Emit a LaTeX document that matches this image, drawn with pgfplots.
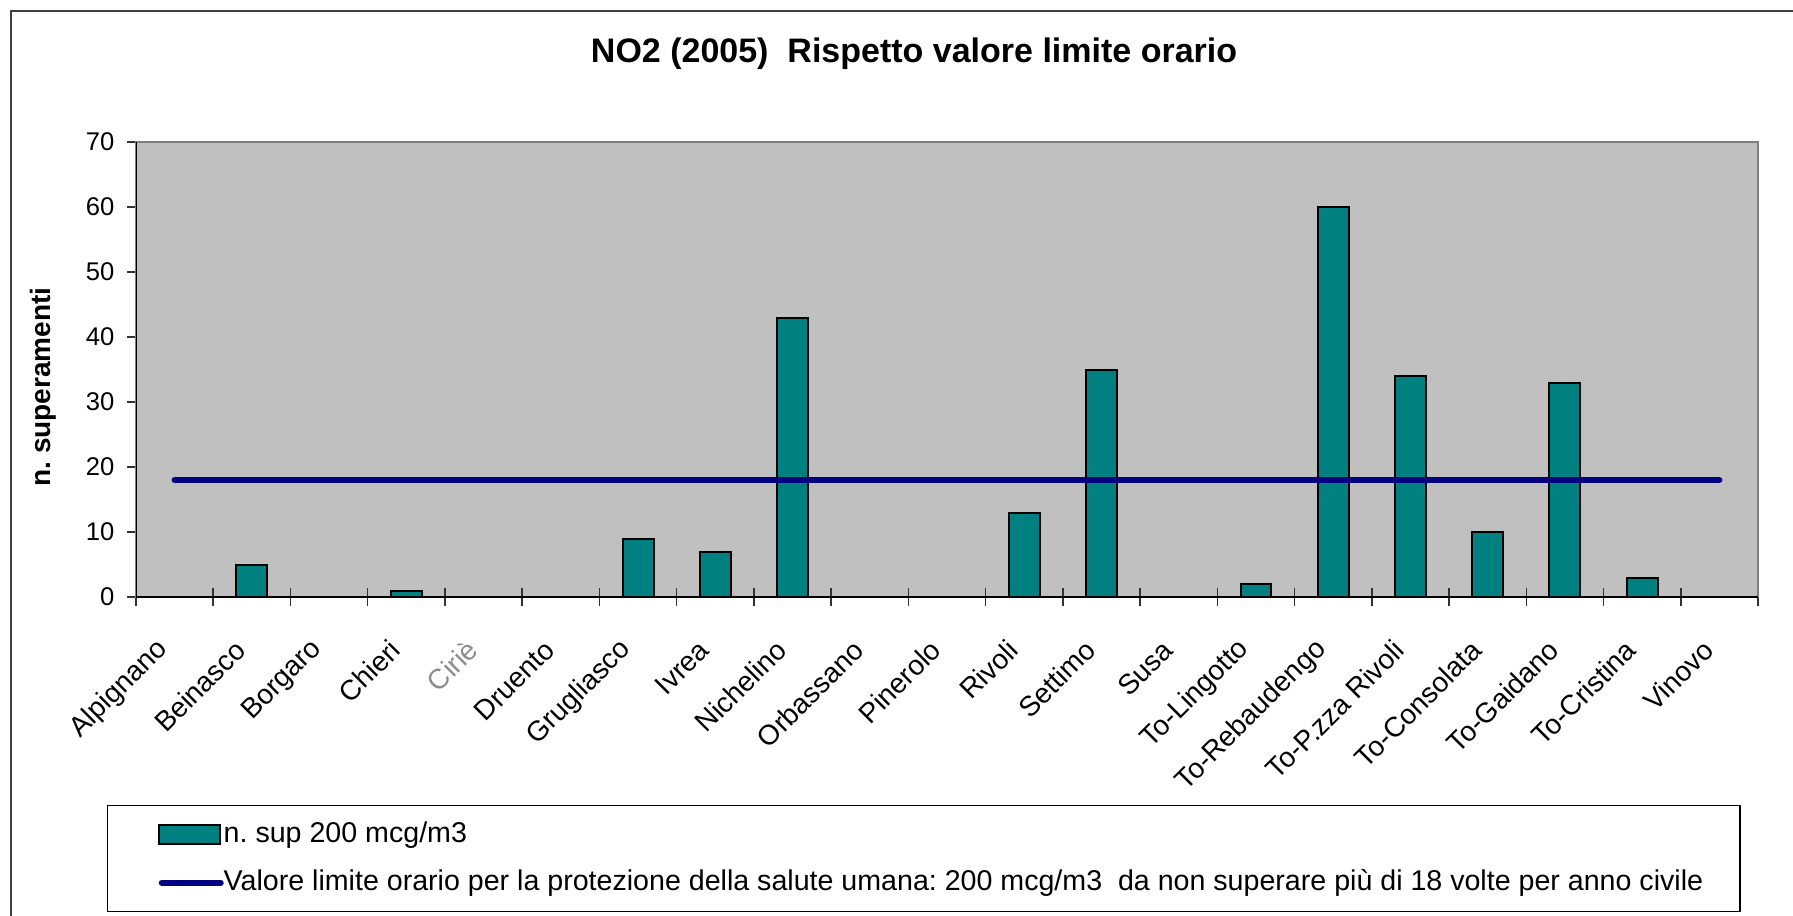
\documentclass[border=0pt]{standalone}
\usepackage{pgfplots}
\pgfplotsset{compat=1.18}
\usepackage{fontspec}
\setmainfont{Liberation Sans}
\frenchspacing
\definecolor{plotgray}{HTML}{C0C0C0}
\definecolor{barteal}{HTML}{008080}
\definecolor{navyline}{HTML}{000080}

\begin{document}
\begin{tikzpicture}
% picture is 1793 x 916 px, 1 px = 0.5bp, origin top left
\useasboundingbox (0bp,0bp) rectangle (896.5bp,-458bp);
\begin{scope}
  \clip (0bp,0bp) rectangle (896.5bp,-458bp);
  \draw[black!75, line width=0.75bp] (5.5bp,-5.5bp) rectangle (920bp,-470bp);
\end{scope}
\begin{axis}[
  at={(68bp,-298.5bp)}, anchor=south west,
  scale only axis, width=811bp, height=227.5bp,
  xmin=-0.5, xmax=20.5, ymin=0, ymax=70,
  axis background/.style={fill=plotgray},
  axis line style={draw=black!50, line width=1bp},
  tick pos=left, tick align=outside,
  major tick length=4.5bp, minor tick length=9bp,
  major tick style={black!80, line width=0.75bp},
  minor tick style={black!80, line width=0.75bp},
  ytick={0,10,...,70},
  xtick={0,...,20},
  major x tick style={draw=none},
  minor xtick={-0.5,0.5,...,20.5},
  minor x tick style={yshift=4.5bp},
  xticklabels={Alpignano, Beinasco, Borgaro, Chieri, {\color{black!45}Ciriè}, Druento,
    Grugliasco, Ivrea, Nichelino, Orbassano, Pinerolo, Rivoli, Settimo, Susa,
    To-Lingotto, To-Rebaudengo, To-P.zza Rivoli, To-Consolata, To-Gaidano,
    To-Cristina, Vinovo},
  xticklabel style={font=\fontsize{14bp}{16bp}\selectfont, inner sep=0pt,
    xshift=-5.5bp, yshift=-19.5bp, rotate=45, anchor=east},
  yticklabel style={font=\fontsize{12.8bp}{15bp}\selectfont, xshift=-2.75bp},
  /pgf/number format/assume math mode=true,
  title={NO2 (2005)\ \ Rispetto valore limite orario},
  title style={at={(axis description cs:0.4797,1.167)}, anchor=center,
    font=\fontsize{17bp}{20bp}\selectfont\bfseries},
  ylabel={n. superamenti},
  ylabel style={at={(axis description cs:-0.0573,0.4615)}, anchor=center,
    font=\fontsize{14bp}{16bp}\selectfont\bfseries},
  legend cell align=left,
  legend style={at={(axis description cs:-0.01788,-0.457)}, anchor=north west,
    draw=black, line width=0.75bp, fill=white,
    inner xsep=25bp, inner ysep=7.75bp, row sep=10.5bp,
    font=\fontsize{14.3bp}{16bp}\selectfont,
    nodes={inner sep=0pt, text height=10.5bp, text depth=3bp},
    /tikz/every even column/.append style={column sep=3bp}},
]
\addplot[ybar, bar width=0.4, fill=barteal, draw=black, line width=1bp,
  legend image code/.code={\draw[fill=barteal, draw=black, line width=1bp]
    (0bp,-4.75bp) rectangle (30.5bp,4.75bp);}]
  coordinates {(0,0) (1,5) (2,0) (3,1) (4,0) (5,0) (6,9) (7,7) (8,43) (9,0)
    (10,0) (11,13) (12,35) (13,0) (14,2) (15,60) (16,34) (17,10) (18,33)
    (19,3) (20,0)};
\addlegendentry{\makebox[733bp][l]{n. sup 200 mcg/m3}}
\addplot[navyline, line width=3bp, line cap=round, sharp plot, mark=none,
  legend image code/.code={\draw[navyline, line width=3bp, line cap=round]
    (1.5bp,0bp) -- (31bp,0bp);}]
  coordinates {(0,18) (1,18) (2,18) (3,18) (4,18) (5,18) (6,18) (7,18) (8,18)
    (9,18) (10,18) (11,18) (12,18) (13,18) (14,18) (15,18) (16,18) (17,18)
    (18,18) (19,18) (20,18)};
\addlegendentry{\makebox[733bp][l]{Valore limite orario per la protezione della salute umana: 200 mcg/m3\ \ da non superare più di 18 volte per anno civile}}
\draw[black, line width=1bp] (rel axis cs:0,1) -- (rel axis cs:0,0) -- (rel axis cs:1,0);
\end{axis}
\end{tikzpicture}
\end{document}
